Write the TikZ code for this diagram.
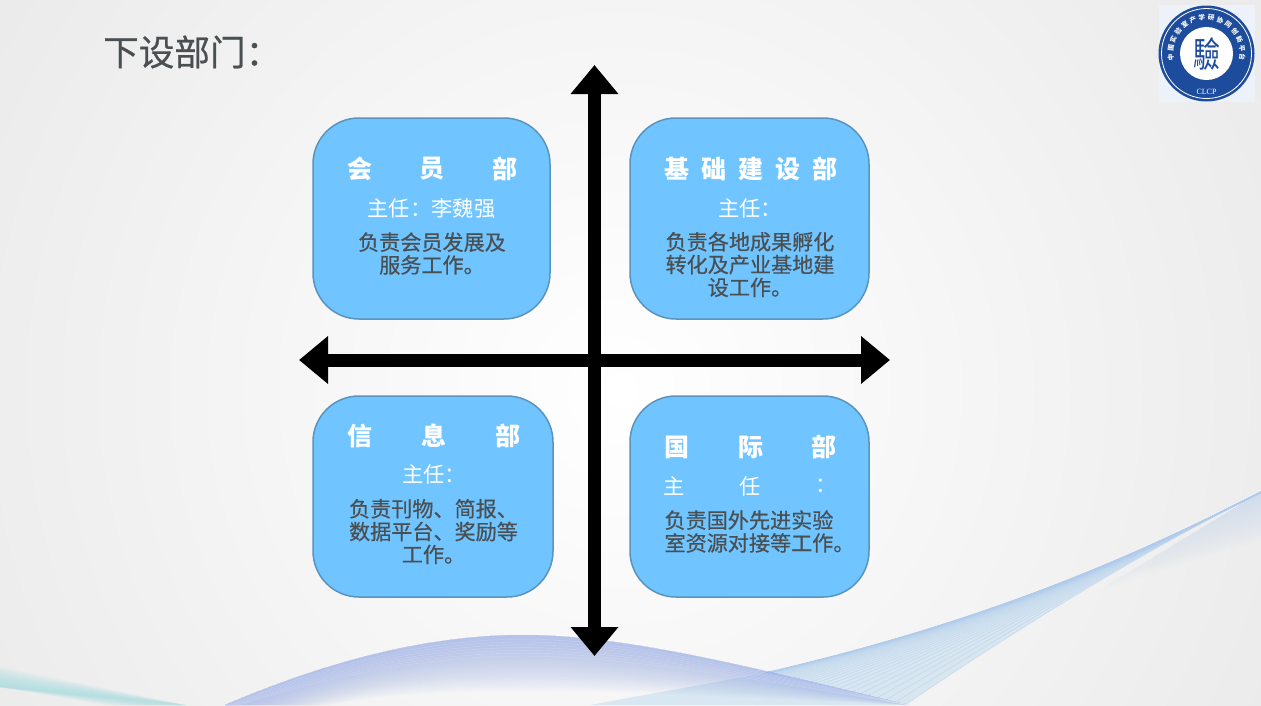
\documentclass[tikz,border=0pt]{standalone}
\usepackage{fontspec}
\setmainfont{Noto Sans CJK SC}
\newfontfamily\logoserif{Liberation Serif}
\newfontfamily\medfont[FakeBold=0.5]{Noto Sans CJK SC}
\usetikzlibrary{arrows.meta,decorations.text}
\definecolor{boxfill}{HTML}{70C4FF}
\definecolor{boxedge}{HTML}{5A94BE}
\definecolor{bodygray}{HTML}{4A4F52}
\definecolor{titlegray}{HTML}{4A4F52}
\definecolor{logoblue}{HTML}{1E4C9C}
\definecolor{logobg}{HTML}{EDF2FA}
\definecolor{humpblue}{HTML}{A4B6EA}
\definecolor{waveblue}{HTML}{B0CCEC}
\definecolor{wavepale}{HTML}{CFE2F0}
\definecolor{teal}{HTML}{A8DEE2}
\definecolor{bgedge}{HTML}{EBEBEB}
\tikzset{
  dept/.style={draw=boxedge,line width=1.5pt,fill=boxfill,rounded corners=46pt,inner sep=0pt},
  head/.style={text=white,font=\fontsize{25}{25}\selectfont\bfseries,inner sep=0pt,anchor=center},
  chief/.style={text=white,font=\fontsize{21.3}{21.3}\selectfont,inner sep=0pt,anchor=center},
  duty/.style={text=bodygray,font=\medfont\fontsize{21.1}{22.8}\selectfont,align=center,inner sep=0pt,anchor=center},
  axis/.style={line width=13pt,{Triangle[width=46pt,length=29pt]}-{Triangle[width=46pt,length=29pt]},shorten >=0pt,shorten <=0pt}
}
\begin{document}
\begin{tikzpicture}[x=1pt,y=-1pt]
\useasboundingbox (0,0) rectangle (1261,705);
% background
\begin{scope}
  \clip (0,0) rectangle (1261,705);
  \fill[bgedge] (0,0) rectangle (1261,705);
  \shade[inner color=white,outer color=bgedge] (620,390) circle (720);
  % teal ribbon
  \foreach \k in {0,...,9}{
    \fill[teal,opacity=0.13] (0,{667+\k*2}) -- (185,705) -- ({105+\k*8},705) -- (0,687) -- cycle;
  }
  % faint fan below the right ribbon
  \foreach \k in {1,...,14}{
    \pgfmathsetmacro{\f}{\k/14}
    \fill[waveblue,opacity=0.035] (1261,492) -- ({1261-165*\f},{492+100*\f})
      .. controls ({1261-90*\f},{492+75*\f}) .. (1261,{492+48*\f}) -- cycle;
  }
  % right ribbon
  \fill[wavepale,opacity=0.75] (1261,492) .. controls (1100,575) and (950,630) .. (765,673) -- (590,705) -- (905,705) .. controls (1030,620) and (1150,548) .. (1261,492) -- cycle;
  \foreach \k in {0,...,40}{
    \pgfmathsetmacro{\f}{(\k/40)^3}
    \draw[waveblue,opacity=0.38,line width=0.9pt]
      (1261,492) .. controls ({1100+50*\f},{575-27*\f}) and ({950+80*\f},{630-10*\f}) .. ({765+140*\f},{673+32*\f});
  }
  % central hump
  \foreach \k in {1,...,24}{
    \pgfmathsetmacro{\f}{1-0.8*\k/24}
    \pgfmathsetmacro{\xl}{225+105*(1-\f)/0.8}
    \fill[humpblue,opacity=0.05]
      (225,705) .. controls (330,660) and (430,635) .. (523,635) .. controls (630,635) and (760,670) .. (909,705)
      .. controls (760,{705-35*\f}) and (630,{705-70*\f}) .. (523,{705-70*\f})
      .. controls (430,{705-70*\f}) and ({330+50*(1-\f)},{705-45*\f}) .. (\xl,705) -- cycle;
  }
  \foreach \f in {0.70,0.74,...,0.98}{
    \draw[white,opacity=0.2,line width=0.4pt]
      ({225+50*(1-\f)},705) .. controls ({330+30*(1-\f)},{705-45*\f}) and (430,{705-70*\f}) .. (523,{705-70*\f})
      .. controls (630,{705-70*\f}) and (760,{705-35*\f}) .. (909,705);
  }
\end{scope}
% title
\node[text=titlegray,font=\medfont\fontsize{35.6}{36}\selectfont,anchor=west,inner sep=0pt] (title) at (103,52) {下设部门：};
% logo
\fill[logobg] (1158.5,5) rectangle (1255,102);
\node[circle,fill=logoblue,minimum size=96pt,inner sep=0pt] (logoring) at (1206.5,53.5) {};
\node[circle,draw=white,line width=0.8pt,minimum size=90pt,inner sep=0pt] (logoline) at (1206.5,53.5) {};
\node[circle,fill=white,minimum size=53pt,inner sep=0pt] (logocore) at (1206.5,53.5) {};
\node[text=logoblue,font=\fontsize{27}{27}\selectfont,inner sep=0pt] (logoseal) at (1206.5,53.5) {\scalebox{1}[1.3]{驗}};
\node[text=white,font=\logoserif\fontsize{8}{8}\selectfont,inner sep=0pt] (logocl) at (1206.5,91.5) {CLCP};
\path[decorate,decoration={text along path,text align=fit to path,
  text={|\fontsize{6.6}{6.6}\selectfont\bfseries\color{white}|中国实验室产学研协同创新平台}}]
  (1206.5,53.5) ++(168:33.5) arc (168:372:33.5);
% boxes
\node[dept,minimum width=237pt,minimum height=201pt] (member) at (431.5,218.5) {};
\node[dept,minimum width=239pt,minimum height=201pt] (infra) at (749.5,218.5) {};
\node[dept,minimum width=240pt,minimum height=201pt] (info) at (433,496.5) {};
\node[dept,minimum width=239pt,minimum height=201pt] (intl) at (749.5,496.5) {};
% box 1
\node[head] (h1a) at (359.5,169) {会};
\node[head] (h1b) at (432,169) {员};
\node[head] (h1c) at (505,169) {部};
\node[chief] (c1) at (431.5,208) {主任：李魏强};
\node[duty] (d1) at (432,253.5) {负责会员发展及\\服务工作。};
% box 2
\node[head] (h2) at (750.5,169) {基\hspace{12pt}础\hspace{12pt}建\hspace{12pt}设\hspace{12pt}部};
\node[chief] (c2) at (750,208) {主任：};
\node[duty] (d2) at (750,264.5) {负责各地成果孵化\\转化及产业基地建\\设工作。};
% box 3
\node[head] (h3a) at (359.5,436) {信};
\node[head] (h3b) at (434,436) {息};
\node[head] (h3c) at (508,436) {部};
\node[chief] (c3) at (434,474) {主任：};
\node[duty] (d3) at (433.5,531.5) {负责刊物、简报、\\数据平台、奖励等\\工作。};
% box 4
\node[head] (h4a) at (676.5,447) {国};
\node[head] (h4b) at (750.5,447) {际};
\node[head] (h4c) at (824,447) {部};
\node[chief] (c4a) at (674.5,486) {主};
\node[chief] (c4b) at (750.5,486) {任};
\node[chief] (c4c) at (826,486) {：};
\node[duty,align=left] (d4) at (759.5,531.5) {负责国外先进实验\\室资源对接等工作。};
% axes
\coordinate (top) at (594.5,65);
\coordinate (bottom) at (594.5,656);
\coordinate (left) at (299,360);
\coordinate (right) at (890,360);
\draw[axis] (top) -- (bottom);
\draw[axis] (left) -- (right);
\end{tikzpicture}
\end{document}
